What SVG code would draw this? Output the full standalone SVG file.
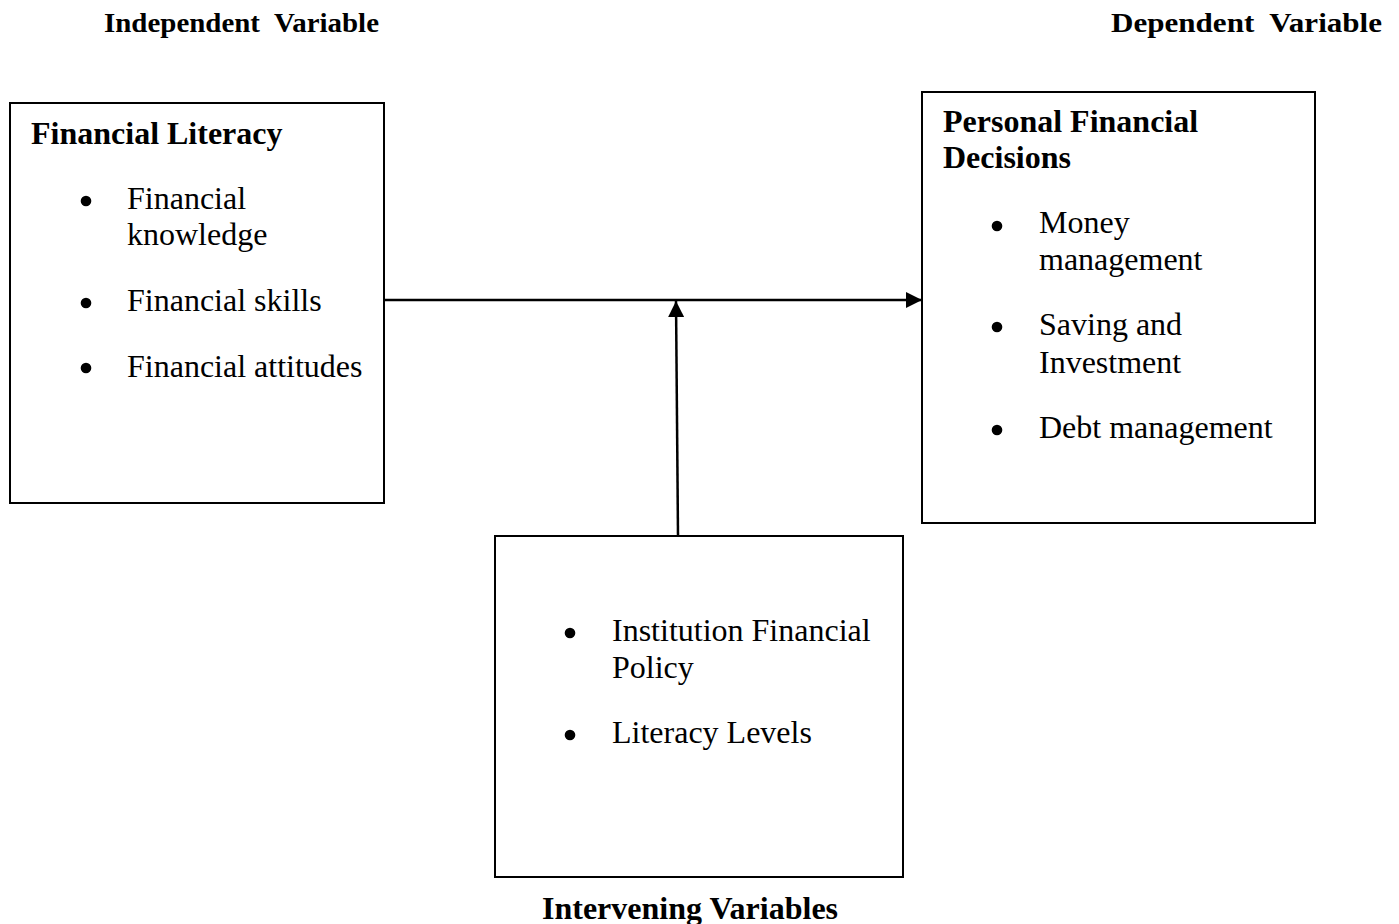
<svg xmlns="http://www.w3.org/2000/svg" width="1399" height="924" viewBox="0 0 1399 924">
  <style>
    .box { fill: #ffffff; stroke: #000000; stroke-width: 2; }
    .head { font-family: "Liberation Serif", "Times New Roman", serif; font-weight: bold; font-size: 28px; fill: #000; }
    .title { font-family: "Liberation Serif", "Times New Roman", serif; font-weight: bold; font-size: 32px; fill: #000; }
    .item { font-family: "Liberation Serif", "Times New Roman", serif; font-size: 32px; fill: #000; }
    .dot { fill: #000; }
    .link { stroke: #000; stroke-width: 2.5; fill: none; }
  </style>
  <defs>
    <marker id="arrow" viewBox="0 0 16 16" refX="16" refY="8" markerWidth="16" markerHeight="16" markerUnits="userSpaceOnUse" orient="auto">
      <path d="M0,0 L16,8 L0,16 Z" fill="#000"/>
    </marker>
  </defs>
  <rect width="1399" height="924" fill="#ffffff"/>

  <!-- column headings -->
  <text class="head" x="104" y="32" xml:space="preserve" textLength="275" lengthAdjust="spacingAndGlyphs">Independent  Variable</text>
  <text class="head" x="1111" y="32" xml:space="preserve" textLength="271" lengthAdjust="spacingAndGlyphs">Dependent  Variable</text>

  <!-- independent variable -->
  <g id="financial-literacy">
    <rect class="box" x="10" y="103" width="374" height="400"/>
    <text class="title" x="31" y="144">Financial Literacy</text>
    <circle class="dot" cx="86" cy="201" r="5.3"/>
    <text class="item" x="127" y="209">Financial</text>
    <text class="item" x="127" y="245">knowledge</text>
    <circle class="dot" cx="86" cy="303" r="5.3"/>
    <text class="item" x="127" y="311">Financial skills</text>
    <circle class="dot" cx="86" cy="368" r="5.3"/>
    <text class="item" x="127" y="377">Financial attitudes</text>
  </g>

  <!-- dependent variable -->
  <g id="personal-financial-decisions">
    <rect class="box" x="922" y="92" width="393" height="431"/>
    <text class="title" x="943" y="132">Personal Financial</text>
    <text class="title" x="943" y="168">Decisions</text>
    <circle class="dot" cx="997" cy="226" r="5.3"/>
    <text class="item" x="1039" y="233">Money</text>
    <text class="item" x="1039" y="270">management</text>
    <circle class="dot" cx="997" cy="327" r="5.3"/>
    <text class="item" x="1039" y="335">Saving and</text>
    <text class="item" x="1039" y="373">Investment</text>
    <circle class="dot" cx="997" cy="430" r="5.3"/>
    <text class="item" x="1039" y="438">Debt management</text>
  </g>

  <!-- intervening variables -->
  <g id="intervening-variables">
    <rect class="box" x="495" y="536" width="408" height="341"/>
    <circle class="dot" cx="570" cy="633" r="5.3"/>
    <text class="item" x="612" y="641">Institution Financial</text>
    <text class="item" x="612" y="678">Policy</text>
    <circle class="dot" cx="570" cy="735" r="5.3"/>
    <text class="item" x="612" y="743">Literacy Levels</text>
    <text class="title" x="542" y="919">Intervening Variables</text>
  </g>

  <!-- connectors -->
  <g id="connectors">
    <line class="link" x1="384" y1="300" x2="922" y2="300" marker-end="url(#arrow)"/>
    <line class="link" x1="678" y1="536" x2="676" y2="301" marker-end="url(#arrow)"/>
  </g>
</svg>
